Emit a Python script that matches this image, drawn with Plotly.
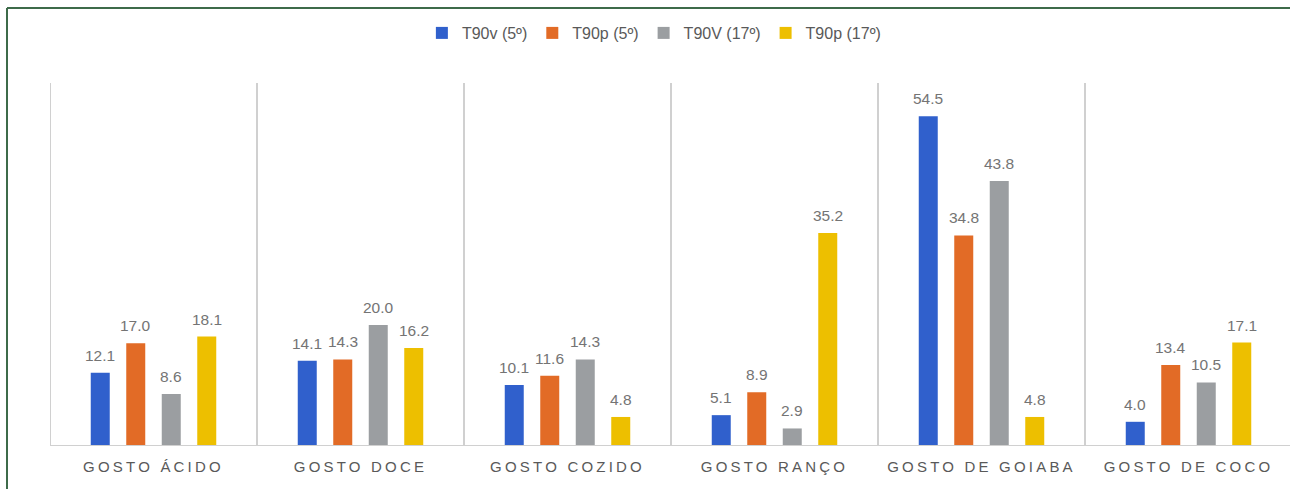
import plotly.graph_objects as go

categories = ["GOSTO ÁCIDO", "GOSTO DOCE", "GOSTO COZIDO", "GOSTO RANÇO", "GOSTO DE GOIABA", "GOSTO DE COCO"]
series_names = ["T90v (5º)", "T90p (5º)", "T90V (17º)", "T90p (17º)"]
t90v_5 = [12.1, 14.1, 10.1, 5.1, 54.5, 4.0]
t90p_5 = [17.0, 14.3, 11.6, 8.9, 34.8, 13.4]
t90V_17 = [8.6, 20.0, 14.3, 2.9, 43.8, 10.5]
t90p_17 = [18.1, 16.2, 4.8, 35.2, 4.8, 17.1]
series_values = [t90v_5, t90p_5, t90V_17, t90p_17]
colors = ["#3060CC", "#E26B26", "#9B9EA1", "#EDBF00"]

W, H = 1290, 489
ML, MR, MT, MB = 50, 0, 83, 43
YMAX = 60
BARGAP = 0.314
BARGROUPGAP = 0.465
cat_px = 207.0
plot_w = W - ML - MR
x_hi = -0.5 + plot_w / cat_px
FONT = "Arial, Liberation Sans"

fig = go.Figure()
for name, vals, col in zip(series_names, series_values, colors):
    fig.add_trace(go.Bar(
        x=list(range(len(categories))), y=vals, name=name,
        marker=dict(color=col, line=dict(width=0)),
        hoverinfo="skip",
    ))

# data labels
n = len(series_names)
slot = (1 - BARGAP) / n
annotations = []
for i, vals in enumerate(series_values):
    off = -(1 - BARGAP) / 2 + (i + 0.5) * slot
    for k, v in enumerate(vals):
        annotations.append(dict(
            x=k + off, y=v, xref="x", yref="y", text=f"{v:.1f}",
            showarrow=False, yanchor="bottom", yshift=7,
            font=dict(family=FONT, size=15.5, color="#747474"),
        ))

shapes = []
# vertical separators
for k in range(len(categories)):
    shapes.append(dict(type="line", xref="x", yref="y", x0=k - 0.5, x1=k - 0.5,
                       y0=0, y1=YMAX, line=dict(color="#D0D0D0", width=2), layer="below"))
# baseline
shapes.append(dict(type="line", xref="paper", yref="y", x0=0, x1=1, y0=0, y1=0,
                   line=dict(color="#D0D0D0", width=2)))
# outer border (dark green), left and top
plot_h = H - MT - MB
bx = (7 - ML) / plot_w
by = (H - MB - 8) / plot_h
shapes.append(dict(type="line", xref="paper", yref="paper", x0=bx, x1=bx, y0=by, y1=-1,
                   line=dict(color="#3E6B4A", width=2)))
shapes.append(dict(type="line", xref="paper", yref="paper", x0=bx, x1=1.2, y0=by, y1=by,
                   line=dict(color="#3E6B4A", width=2)))

fig.update_layout(
    width=W, height=H,
    margin=dict(l=ML, r=MR, t=MT, b=MB, pad=0),
    paper_bgcolor="white", plot_bgcolor="white",
    barmode="group", bargap=BARGAP, bargroupgap=BARGROUPGAP,
    font=dict(family=FONT, color="#595959"),
    showlegend=True,
    legend=dict(orientation="h", x=0.487, xanchor="center", y=(H - MB - 33) / plot_h,
                yanchor="middle", font=dict(size=16, color="#595959"),
                itemwidth=30, traceorder="normal", itemclick=False),
    xaxis=dict(range=[-0.5, x_hi], tickmode="array",
               tickvals=list(range(len(categories))), ticktext=categories,
               showgrid=False, zeroline=False, showline=False, ticks="",
               tickfont=dict(size=15, color="#595959"), ticklabelstandoff=10,
               fixedrange=True),
    yaxis=dict(range=[0, YMAX], visible=False, fixedrange=True),
    annotations=annotations,
    shapes=shapes,
)

post = ("var s=document.createElement('style');"
        "s.textContent='.xtick text{letter-spacing:3.2px;}';"
        "document.head.appendChild(s);")
fig.write_html("out.html", config={"displayModeBar": False}, post_script=post)
